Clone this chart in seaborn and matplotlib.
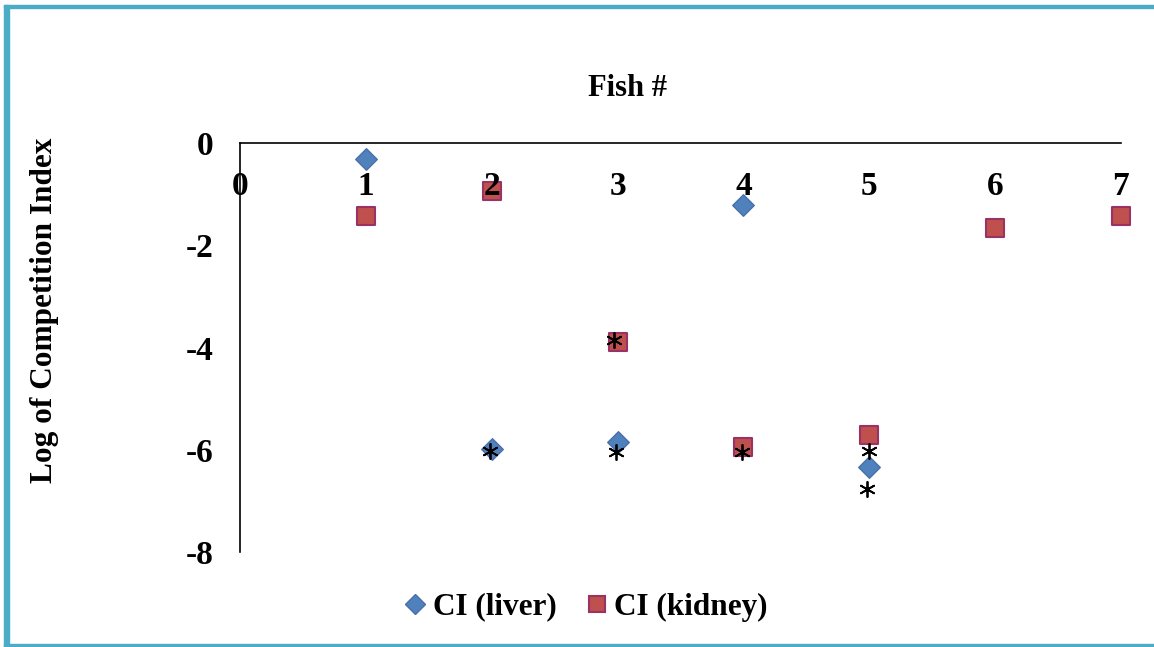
import matplotlib
matplotlib.use("Agg")
import matplotlib.pyplot as plt
from matplotlib.lines import Line2D
from matplotlib.patches import Rectangle
import seaborn as sns
import pandas as pd

# values
fish = [1, 2, 3, 4, 5, 6, 7]
ci_liver = [-0.31, -5.99, -5.84, -1.22, -6.33, None, None]
ci_kidney = [-1.43, -0.94, -3.89, -5.95, -5.72, -1.67, -1.43]

# significance asterisks (x, y)
star_x = [1.99, 2.99, 2.97, 3.99, 5.0, 4.98]
star_y = [-6.03, -6.05, -3.85, -6.05, -6.03, -6.76]

xticks = [0, 1, 2, 3, 4, 5, 6, 7]
yticks = [0, -2, -4, -6, -8]

liver_df = pd.DataFrame({"fish": fish, "ci": ci_liver}).dropna()
kidney_df = pd.DataFrame({"fish": fish, "ci": ci_kidney}).dropna()
star_df = pd.DataFrame({"x": star_x, "y": star_y})

sns.set_theme(style="white")
plt.rcParams["font.family"] = ["Liberation Serif", "DejaVu Serif"]
plt.rcParams["font.weight"] = "bold"
plt.rcParams["text.color"] = "black"
plt.rcParams["xtick.color"] = "black"
plt.rcParams["ytick.color"] = "black"

blue, blue_edge = "#4F81BD", "#4A6FA8"
red, red_edge = "#C0504D", "#993366"

fig = plt.figure(figsize=(11.54, 6.47), dpi=100)
ax = fig.add_axes([240 / 1154, 1 - 552 / 647, (1121 - 240) / 1154, (552 - 143) / 647])
ax.set_axisbelow(False)  # tick labels drawn over the markers

# x axis line sits at y = 0 (top of the plot)
ax.spines["bottom"].set_position(("data", 0))
ax.spines["right"].set_visible(False)
ax.spines["top"].set_visible(False)
for s in ["bottom", "left"]:
    ax.spines[s].set_color("black")
    ax.spines[s].set_linewidth(1.2)

sns.scatterplot(data=liver_df, x="fish", y="ci", marker="D", s=120, color=blue,
                edgecolor=blue_edge, linewidth=1, ax=ax, clip_on=False, zorder=2)
sns.scatterplot(data=kidney_df, x="fish", y="ci", marker="s", s=160, color=red,
                edgecolor=red_edge, linewidth=1.5, ax=ax, clip_on=False, zorder=2)
sns.scatterplot(data=star_df, x="x", y="y", marker=(6, 2, 0), s=120, color="black",
                linewidth=1.3, ax=ax, clip_on=False, zorder=2.2)

ax.set_xlim(0, 7)
ax.set_ylim(-8, 0)
ax.set_xticks(xticks)
ax.set_yticks(yticks)
ax.set_xticklabels([str(t) for t in xticks])
ax.set_yticklabels([str(t) for t in yticks])
ax.tick_params(axis="x", length=0, pad=20, labelsize=24, labelcolor="black")
ax.tick_params(axis="y", length=0, pad=19, labelsize=24, labelcolor="black")
for lab in ax.get_xticklabels() + ax.get_yticklabels():
    lab.set_fontweight("bold")
ax.set_xlabel("")
ax.set_ylabel("")

fig.text(627 / 1154, 1 - 88 / 647, "Fish #", ha="center", va="center",
         fontsize=22, fontweight="bold")
fig.text(45 / 1154, 1 - 310 / 647, "Log of Competition Index", ha="center", va="center",
         rotation=90, fontsize=22.5, fontweight="bold")

handles = [
    Line2D([], [], marker="D", ls="", ms=10, mfc=blue, mec=blue_edge),
    Line2D([], [], marker="s", ms=12, ls="", mfc=red, mec=red_edge, mew=1.5),
]
fig.legend(handles, ["CI (liver)", "CI (kidney)"], loc="center",
           bbox_to_anchor=(586 / 1154, 1 - 607 / 647), ncol=2, frameon=False,
           prop={"size": 22.5, "weight": "bold"}, handlelength=0.7,
           handletextpad=0.2, columnspacing=0.95)

# teal frame around the chart (no right side)
teal = "#4BACC6"
fig.add_artist(Rectangle((4 / 1154, 0), 5 / 1154, 1 - 5 / 647, color=teal,
                         transform=fig.transFigure))
fig.add_artist(Rectangle((4 / 1154, 1 - 8 / 647), 1 - 4 / 1154, 3 / 647, color=teal,
                         transform=fig.transFigure))
fig.add_artist(Rectangle((4 / 1154, 0), 1 - 4 / 1154, 3 / 647, color=teal,
                         transform=fig.transFigure))

fig.savefig("out.png", dpi=100)
